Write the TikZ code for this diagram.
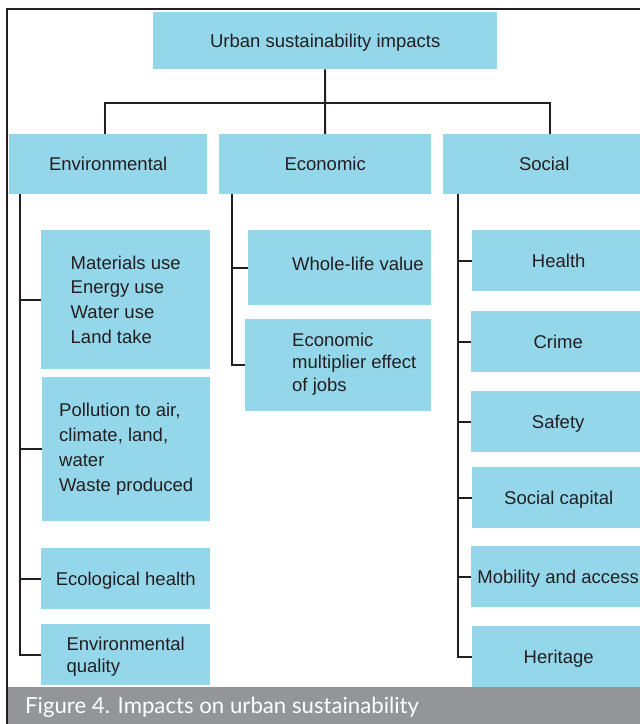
\documentclass[tikz,border=0pt]{standalone}
\usepackage{fontspec}
\setmainfont{Liberation Sans}
\newfontfamily\capfont{Lato}
\usetikzlibrary{positioning}
\definecolor{boxblue}{RGB}{149,215,234}
\definecolor{ink}{RGB}{35,31,32}
\definecolor{capgrey}{RGB}{147,149,152}

\begin{document}
\begin{tikzpicture}[x=1pt,y=-1pt,
  box/.style={fill=boxblue, text=ink, inner sep=0pt, anchor=north west, align=left,
    font=\fontsize{18.5}{22.3}\selectfont},
  cell/.style={box, text depth=0pt},
  listbox/.style={box, font=\fontsize{18.5}{24.7}\selectfont},
  txt/.style={text=ink, inner sep=0pt, align=left, font=\fontsize{18.5}{22.3}\selectfont},
  link/.style={draw=ink, line width=2pt}]
\useasboundingbox (0,0) rectangle (640,724);

% top and the three groups
\node[cell, minimum width=344, minimum height=57] (top) at (153,12) {Urban sustainability impacts};
\node[cell, minimum width=198, minimum height=60] (env) at (9,134) {Environmental};
\node[cell, minimum width=212, minimum height=60] (econ) at (219,134) {Economic};
\node[cell, minimum width=202, minimum height=60] (soc) at (443,134) {Social};

% environmental
\node[listbox, minimum width=169, minimum height=139] (mat) at (41,230) {Materials use\\Energy use\\Water use\\Land take};
\node[listbox, minimum width=168, minimum height=144] (poll) at (42,377) {Pollution to air,\\climate, land,\\water\\Waste produced};
\node[cell, minimum width=169, minimum height=61] (eco) at (41,548) {Ecological health};
\node[cell, minimum width=169, minimum height=61] (envq) at (41,624) {Environmental\\quality};

% economic
\node[box, minimum width=183, minimum height=75] (whole) at (248,230) {};
\node[txt, right=44pt of whole.west, yshift=4pt] (wholetxt) {Whole-life value};
\node[box, minimum width=186, minimum height=92] (mult) at (245,319) {};
\node[txt, right=47pt of mult.west, yshift=1pt] (multtxt) {Economic\\multiplier effect\\of jobs};

% social
\node[cell, minimum width=173, minimum height=61] (health) at (472,230) {Health};
\node[cell, minimum width=174, minimum height=61] (crime) at (471,311) {Crime};
\node[cell, minimum width=174, minimum height=61] (safety) at (471,391) {Safety};
\node[cell, minimum width=173, minimum height=61] (capital) at (472,467) {Social capital};
\node[cell, minimum width=174, minimum height=61] (mobility) at (471,546) {Mobility and access};
\node[cell, minimum width=173, minimum height=61] (heritage) at (472,626) {Heritage};

% links from the top
\coordinate (bus) at (325,103);
\draw[link] (top.south) -- (bus);
\draw[link] ([xshift=-3pt]env.north) |- ([xshift=6pt]soc.north |- bus) -- ([xshift=6pt]soc.north);
\draw[link] (bus) -- (econ.north);

% trunks
\draw[link] ([xshift=11pt]env.south west) coordinate (et) |- (envq.west);
\foreach \b in {mat,poll,eco} {
  \draw[link] (et |- \b.west) -- (\b.west);
}
\draw[link] ([xshift=13pt]econ.south west) coordinate (ct) |- (mult.west);
\draw[link] (ct |- whole.west) -- (whole.west);
\draw[link] ([xshift=15pt]soc.south west) coordinate (st) |- (heritage.west);
\foreach \b in {health,crime,safety,capital,mobility} {
  \draw[link] (st |- \b.west) -- (\b.west);
}

% caption and frame
\fill[capgrey] (8,687) rectangle (640,724);
\node[anchor=base west, inner sep=0pt, text=white, font=\capfont\fontsize{22.2}{26}\selectfont] (cap) at (25,713) {Figure 4. Impacts on urban sustainability};
\draw[ink, line width=2pt] (7,724) -- (7,9) -- (640,9);
\end{tikzpicture}
\end{document}
